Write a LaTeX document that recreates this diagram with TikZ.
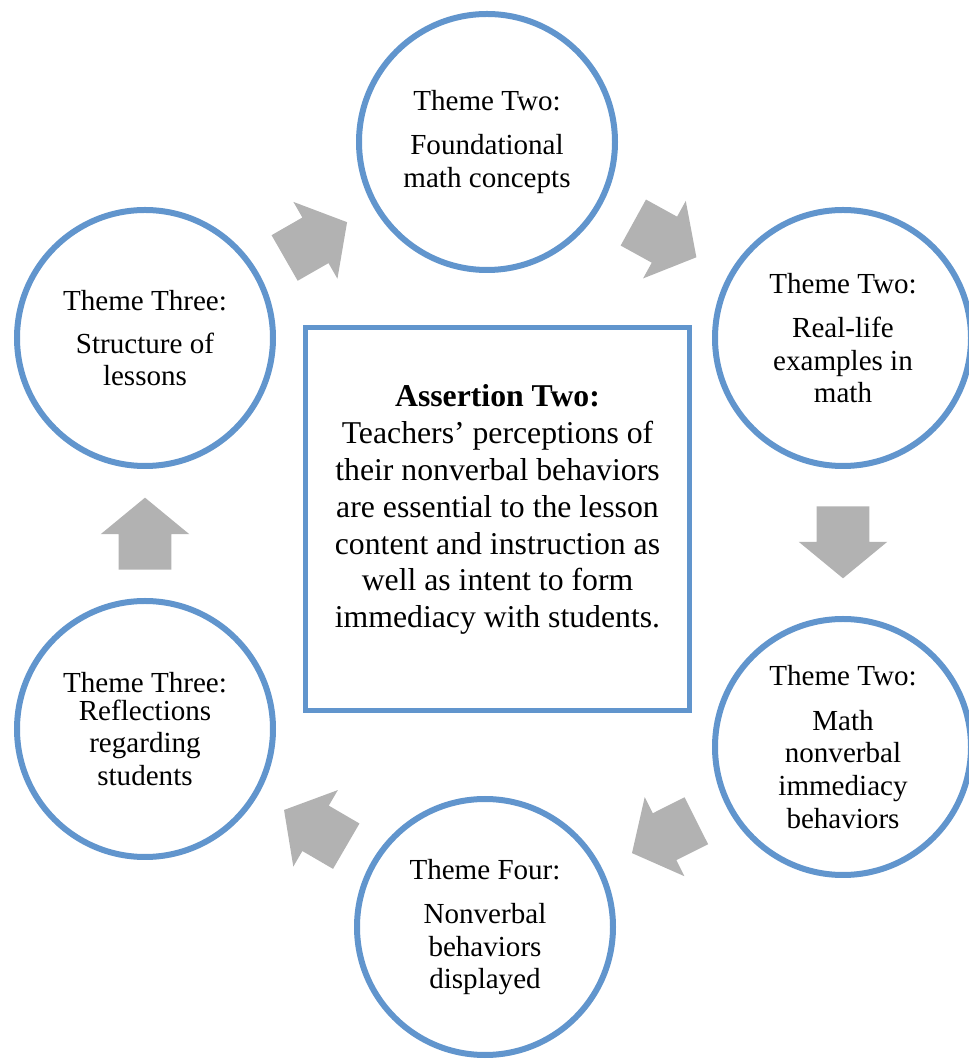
\documentclass[tikz,border=0pt]{standalone}
\usepackage{fontspec}
\setmainfont{Liberation Serif}
\usepackage{xcolor}
\usepackage{tikz}
\usetikzlibrary{shapes.arrows, shadows, positioning}
\definecolor{ThemeBlue}{RGB}{97, 149, 205}
\definecolor{ArrowGray}{RGB}{178, 178, 178}

\begin{document}
\begin{tikzpicture}[x=0.75pt,y=0.75pt,
  theme/.style={circle, draw=ThemeBlue, line width=4.5pt, fill=white,
    minimum size=192pt, inner sep=0pt, align=center,
    font=\fontsize{21.8}{24.4}\selectfont,
    drop shadow={opacity=0.15, shadow xshift=1pt, shadow yshift=-2pt}},
  assertbox/.style={rectangle, draw=ThemeBlue, line width=3.75pt, fill=white,
    minimum width=288pt, minimum height=287pt, inner sep=0pt},
  asserttext/.style={align=center, font=\fontsize{23.8}{27.6}\selectfont},
  cyclearrow/.style={single arrow, fill=ArrowGray, draw=none, inner sep=0pt,
    text height=39pt, text depth=0pt, minimum height=54pt,
    single arrow head extend=13.5pt, single arrow tip angle=101,
    midway, sloped, allow upside down, xshift=-8.25pt}]
  \path[use as bounding box] (0,0) rectangle (969,1061);

  % centre box
  \node[assertbox] (box) at (497.5,542) {};
  \node[asserttext] (claim) at ([yshift=7pt]box.center) {
    {\bfseries Assertion Two:}\\
    Teachers’ perceptions of\\
    their nonverbal behaviors\\
    are essential to the lesson\\
    content and instruction as\\
    well as intent to form\\
    immediacy with students.};

  % themes round the box
  \node[theme] (foundation) at (487,919) {Theme Two:\\[9pt]Foundational\\math concepts};
  \node[theme] (reallife) at (843,723) {Theme Two:\\[9pt]Real-life\\examples in\\math};
  \node[theme] (immediacy) at (843,314) {Theme Two:\\[9pt]Math\\nonverbal\\immediacy\\behaviors};
  \node[theme] (displayed) at (485,134) {Theme Four:\\[9pt]Nonverbal\\behaviors\\displayed};
  \node[theme] (reflect) at (145,332) {Theme Three:\\[-3.4pt]Reflections\\regarding\\students};
  \node[theme] (structure) at (145,723) {Theme Three:\\[8pt]Structure of\\lessons};

  % block arrows of the cycle
  \foreach \a/\b in {structure/foundation, foundation/reallife, reallife/immediacy,
                     immediacy/displayed, displayed/reflect, reflect/structure}{
    \path (\a) -- node[cyclearrow] (arrow-\a) {} (\b);
  }
\end{tikzpicture}
\end{document}
